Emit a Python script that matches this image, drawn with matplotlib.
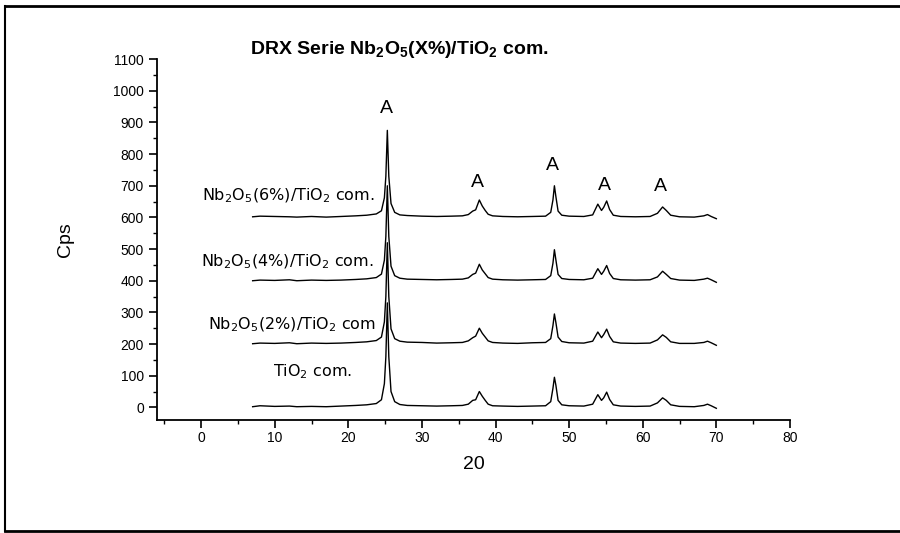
import numpy as np
import matplotlib
matplotlib.use('Agg')
import matplotlib.pyplot as plt
from matplotlib.lines import Line2D
from matplotlib.ticker import MultipleLocator

plt.rcParams['font.family'] = ['Liberation Sans', 'DejaVu Sans']
plt.rcParams['mathtext.fontset'] = 'custom'
plt.rcParams['mathtext.rm'] = 'Liberation Sans'
plt.rcParams['mathtext.bf'] = 'Liberation Sans:bold'

# 2theta sample points
tt = [7, 8, 10, 12, 13, 15, 17, 19, 21, 22.5, 23.8, 24.5, 24.9, 25.1, 25.3,
      25.5, 25.8, 26.3, 27, 28, 30, 32, 34, 35.5, 36.3, 36.9, 37.3, 37.8,
      38.2, 38.6, 39.0, 39.6, 41, 43, 45, 46.8, 47.5, 47.8, 48.0, 48.2, 48.5,
      49.0, 50, 52, 53.2, 53.9, 54.4, 54.7, 55.1, 55.5, 56.0, 57, 59, 61,
      62.0, 62.7, 63.2, 63.8, 65, 67, 68.3, 68.8, 69.3, 70]

# counts above each trace's own offset
tio2 = [2, 5, 3, 4, 2, 3, 2, 4, 6, 8, 12, 24, 75, 160, 330,
        160, 50, 18, 9, 6, 5, 4, 5, 6, 10, 22, 24, 50,
        35, 22, 10, 5, 4, 3, 4, 5, 18, 60, 95, 70, 22,
        8, 5, 4, 10, 40, 22, 30, 48, 25, 8, 4, 3, 4,
        14, 30, 22, 8, 3, 2, 6, 10, 5, -3]
nb2 = [1, 3, 2, 4, 1, 3, 2, 3, 5, 7, 11, 22, 70, 150, 320,
       150, 48, 17, 9, 6, 5, 3, 4, 5, 10, 20, 25, 50,
       34, 22, 10, 5, 3, 2, 4, 5, 17, 58, 95, 68, 22,
       8, 4, 3, 9, 38, 20, 30, 47, 24, 7, 3, 2, 3,
       13, 29, 21, 7, 2, 2, 5, 9, 4, -4]
nb4 = [0, 2, 1, 3, 0, 2, 1, 2, 4, 6, 10, 21, 65, 140, 300,
       140, 46, 16, 8, 5, 4, 3, 4, 5, 9, 20, 24, 52,
       34, 22, 10, 5, 3, 2, 3, 4, 16, 55, 98, 66, 20,
       7, 4, 3, 8, 38, 20, 30, 48, 23, 7, 3, 2, 3,
       12, 30, 20, 7, 2, 1, 5, 8, 3, -5]
nb6 = [2, 4, 3, 2, 1, 3, 1, 3, 5, 7, 11, 21, 62, 130, 275,
       130, 44, 16, 8, 6, 4, 3, 4, 5, 9, 20, 24, 55,
       36, 22, 10, 5, 3, 2, 3, 4, 16, 55, 100, 66, 20,
       7, 4, 3, 8, 42, 22, 32, 52, 25, 7, 3, 2, 3,
       13, 33, 22, 7, 2, 1, 5, 9, 3, -4]

series = [tio2, nb2, nb4, nb6]
offsets = [0, 200, 400, 600]

label_text = [r'TiO$_2$ com.', r'Nb$_2$O$_5$(2%)/TiO$_2$ com',
              r'Nb$_2$O$_5$(4%)/TiO$_2$ com.', r'Nb$_2$O$_5$(6%)/TiO$_2$ com.']
label_x = [15.1, 23.7, 23.4, 23.6]
label_y = [113, 262, 460, 668]

peak_x = [25.2, 37.5, 47.8, 54.8, 62.4]
peak_y = [943, 710, 764, 702, 699]

fig = plt.figure(figsize=(9, 5.33), dpi=100)
ax = fig.add_axes([0.1744, 0.212, 0.7033, 0.677])

for ys, off in zip(series, offsets):
    ax.plot(tt, np.array(ys) + off, color='black', lw=1.0)

for i, (lx, ly, s) in enumerate(zip(label_x, label_y, label_text)):
    ha = 'center' if i == 0 else 'right'
    ax.text(lx, ly, s, ha=ha, va='center', fontsize=11.5, family='DejaVu Sans',
            math_fontfamily='dejavusans')

for px, py in zip(peak_x, peak_y):
    ax.text(px, py, 'A', ha='center', va='center', fontsize=14)

ax.set_xlim(-6, 80)
ax.set_ylim(-40, 1100)
ax.xaxis.set_major_locator(MultipleLocator(10))
ax.xaxis.set_minor_locator(MultipleLocator(5))
ax.yaxis.set_major_locator(MultipleLocator(100))
ax.yaxis.set_minor_locator(MultipleLocator(50))
ax.spines['top'].set_visible(False)
ax.spines['right'].set_visible(False)
ax.spines['left'].set_linewidth(1.3)
ax.spines['bottom'].set_linewidth(1.3)
ax.tick_params(which='major', direction='out', length=6, width=1.2, labelsize=10)
ax.tick_params(axis='x', which='major', pad=2)
ax.tick_params(which='minor', direction='out', length=3, width=1.0)

ax.set_xlabel('20', fontsize=14, labelpad=8)
ax.set_ylabel('Cps', fontsize=14, labelpad=28)

fig.text(0.444, 0.908, r'DRX Serie Nb$_\mathbf{2}$O$_\mathbf{5}$(X%)/TiO$_\mathbf{2}$ com.',
         ha='center', va='center', fontsize=14, fontweight='bold')

# scanned page frame
fig.add_artist(Line2D([0.005, 1.0], [0.989, 0.989], color='black', lw=2))
fig.add_artist(Line2D([0.006, 0.006], [0.004, 0.989], color='black', lw=1.5))
fig.add_artist(Line2D([0.005, 1.0], [0.004, 0.004], color='black', lw=2))

fig.savefig('out.png', dpi=100)
